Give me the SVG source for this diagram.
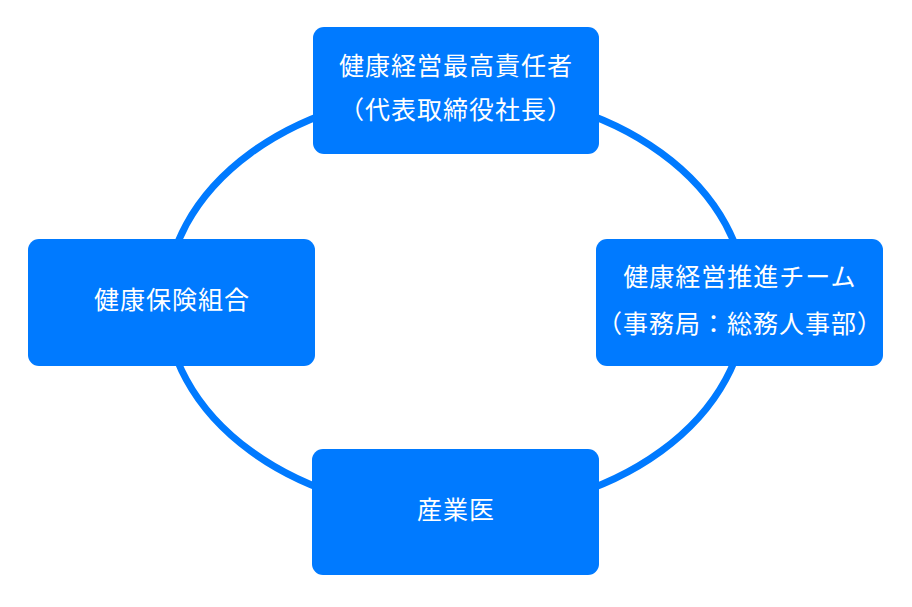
<svg xmlns="http://www.w3.org/2000/svg" width="912" height="607" viewBox="0 0 912 607">
<style>
.box{fill:#007AFF;}
.t{fill:#FFFFFF;font-family:"Noto Sans CJK JP","Noto Sans",sans-serif;font-size:25px;letter-spacing:1px;text-anchor:middle;dominant-baseline:central;}
.ring{fill:none;stroke:#007AFF;stroke-width:7;}
</style>
<rect width="912" height="607" fill="#FFFFFF"/>
<g id="connectors">
<ellipse class="ring" cx="456" cy="302" rx="290" ry="211"/>
</g>
<g id="node-top">
<rect class="box" x="313" y="27" width="286" height="127" rx="11"/>
<text class="t" x="456" y="64">健康経営最高責任者</text>
<text class="t" x="456" y="108">（代表取締役社長）</text>
</g>
<g id="node-right">
<rect class="box" x="596" y="239" width="287" height="127" rx="11"/>
<text class="t" x="740" y="275">健康経営推進チーム</text>
<text class="t" x="740" y="322">（事務局：総務人事部）</text>
</g>
<g id="node-left">
<rect class="box" x="28" y="239" width="287" height="127" rx="11"/>
<text class="t" x="172" y="298">健康保険組合</text>
</g>
<g id="node-bottom">
<rect class="box" x="312" y="449" width="287" height="126" rx="11"/>
<text class="t" x="456" y="508">産業医</text>
</g>
</svg>
